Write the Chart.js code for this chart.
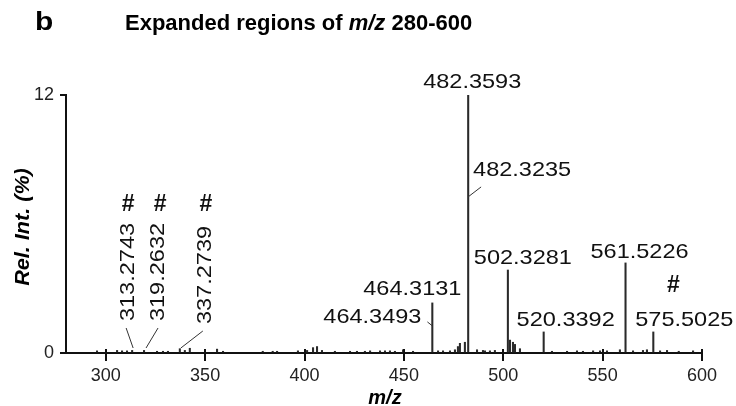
<!DOCTYPE html>
<html>
<head>
<meta charset="utf-8">
<script src="https://cdn.jsdelivr.net/npm/chart.js@4.4.1/dist/chart.umd.min.js"></script>
<style>
  html, body { margin: 0; padding: 0; background: #fff; }
</style>
</head>
<body>
<canvas id="spectrum" width="736" height="406"></canvas>
<script>
// major peaks (m/z, relative intensity %)
const majorMz = [464.3131, 482.3593, 502.3281, 520.3392, 561.5226, 575.5025];
const majorInt = [2.33, 12.0, 3.86, 0.98, 4.19, 0.98];

// small baseline peaks
const minorMz = [295.6, 305.7, 308.2, 310.7, 313.2743, 319.2632, 325.8, 328.8, 331.3, 337.2739,
    339.8, 342.3, 356.0, 359.0, 379.0, 384.0, 386.2, 396.7, 401.3, 404.3, 406.3, 408.8, 415.3,
    422.9, 426.4, 430.4, 433.0, 438.0, 440.5, 443.0, 445.5, 449.6, 454.6, 467.2, 469.7, 473.2,
    475.7, 477.2, 478.2, 480.7, 486.8, 489.8, 490.8, 493.3, 495.8, 503.4, 504.9, 505.9, 508.4,
    524.5, 532.1, 537.1, 540.1, 545.2, 548.7, 552.2, 558.7, 565.3, 570.3, 572.3, 578.9, 582.4,
    588.3, 595.5];
const minorInt = [0.1, 0.12, 0.1, 0.1, 0.12, 0.12, 0.08, 0.08, 0.08, 0.2,
    0.12, 0.22, 0.18, 0.08, 0.08, 0.08, 0.08, 0.1, 0.12, 0.25, 0.3, 0.12, 0.08,
    0.08, 0.08, 0.08, 0.1, 0.1, 0.1, 0.1, 0.08, 0.15, 0.08, 0.1, 0.1, 0.1,
    0.15, 0.3, 0.45, 0.5, 0.15, 0.12, 0.1, 0.1, 0.12, 0.6, 0.5, 0.4, 0.2,
    0.08, 0.08, 0.1, 0.08, 0.1, 0.1, 0.1, 0.15, 0.1, 0.12, 0.15, 0.1, 0.12,
    0.08, 0.1];

const xTicks = [300, 350, 400, 450, 500, 550, 600];
const yTicks = [0, 12];

// annotated peaks: label text, m/z of the stick, intensity where the label hangs
const peakLabels = ['482.3593', '482.3235', '464.3131', '464.3493', '502.3281', '520.3392',
    '561.5226', '575.5025', '313.2743', '319.2632', '337.2739'];
const labelMz = [482.3593, 482.3235, 464.3131, 464.3493, 502.3281, 520.3392,
    561.5226, 575.5025, 313.2743, 319.2632, 337.2739];
const labelInt = [12.0, 7.26, 2.33, 1.26, 3.86, 0.98, 4.19, 0.98, 0, 0, 0];
const hashMarked = ['575.5025', '313.2743', '319.2632', '337.2739'];

// pixel offsets of text / '#' / leader from the anchor point
const labelLayout = {
    '482.3593': { dx: 4, dy: -13 },
    '482.3235': { dx: 54, dy: -27, lead: [[0, 0], [13, -10]] },
    '464.3131': { dx: -20, dy: -14 },
    '464.3493': { dx: -60, dy: -9, lead: [[0, 0], [-5, -4]] },
    '502.3281': { dx: 15, dy: -12 },
    '520.3392': { dx: 22, dy: -12 },
    '561.5226': { dx: 14, dy: -11 },
    '575.5025': { dx: 31, dy: -12, hash: [20, -46] },
    '313.2743': { dx: -4, dy: -81, rot: true, hash: [-4, -148], lead: [[1, -5], [-6, -25]] },
    '319.2632': { dx: 14, dy: -81, rot: true, hash: [16, -148], lead: [[2, -5], [14, -25]] },
    '337.2739': { dx: 25, dy: -78, rot: true, hash: [26, -148], lead: [[1, -5], [23, -22]] }
};

const FONT = '"Liberation Sans", Arial, Helvetica, sans-serif';

const stretchedText = (ctx, txt, x, y, rot, sx = 1.12) => {
    ctx.save();
    ctx.translate(x, y);
    if (rot) ctx.rotate(-Math.PI / 2);
    ctx.scale(sx, 1);
    ctx.fillText(txt, 0, 0);
    ctx.restore();
};

const textPlugin = {
    id: 'texts',
    afterDraw(chart) {
        const { ctx } = chart;
        const xs = chart.scales.x;
        const ys = chart.scales.y;
        ctx.save();

        // short tick stubs above the x axis
        ctx.strokeStyle = '#111';
        ctx.lineWidth = 2;
        xTicks.forEach(v => {
            const px = Math.round(xs.getPixelForValue(v));
            ctx.beginPath();
            ctx.moveTo(px, ys.bottom);
            ctx.lineTo(px, ys.bottom - 4);
            ctx.stroke();
        });

        // peak labels
        ctx.fillStyle = '#111';
        ctx.strokeStyle = '#333';
        ctx.lineWidth = 1;
        ctx.textAlign = 'center';
        ctx.textBaseline = 'middle';
        peakLabels.forEach((txt, i) => {
            const lay = labelLayout[txt];
            const px = xs.getPixelForValue(labelMz[i]);
            const py = ys.getPixelForValue(labelInt[i]);
            ctx.font = '21px ' + FONT;
            stretchedText(ctx, txt, px + lay.dx, py + lay.dy, lay.rot);
            if (lay.lead) {
                ctx.beginPath();
                ctx.moveTo(px + lay.lead[0][0], py + lay.lead[0][1]);
                ctx.lineTo(px + lay.lead[1][0], py + lay.lead[1][1]);
                ctx.stroke();
            }
            if (hashMarked.includes(txt)) {
                ctx.font = 'bold 23px ' + FONT;
                ctx.fillText('#', px + lay.hash[0], py + lay.hash[1]);
            }
        });

        // title
        ctx.fillStyle = '#000';
        ctx.textAlign = 'left';
        ctx.textBaseline = 'alphabetic';
        ctx.font = 'bold 26px ' + FONT;
        stretchedText(ctx, 'b', 35, 30, false, 1.15);
        let tx = 125;
        const parts = [['Expanded regions of ', 'bold'], ['m/z', 'italic bold'], [' 280-600', 'bold']];
        parts.forEach(([s, w]) => {
            ctx.font = w + ' 22px ' + FONT;
            ctx.fillText(s, tx, 30);
            tx += ctx.measureText(s).width;
        });

        // axis titles
        ctx.textAlign = 'center';
        ctx.textBaseline = 'middle';
        ctx.font = 'italic bold 20px ' + FONT;
        stretchedText(ctx, 'Rel. Int. (%)', 23, 227, true, 1.08);
        ctx.font = 'italic bold 20px ' + FONT;
        ctx.fillText('m/z', 385, 398);

        ctx.restore();
    }
};

const points = majorMz.map((m, i) => ({ x: m, y: majorInt[i] }))
    .concat(minorMz.map((m, i) => ({ x: m, y: minorInt[i] })));

const ctx = document.getElementById('spectrum').getContext('2d');
new Chart(ctx, {
    type: 'bar',
    data: {
        datasets: [{
            data: points,
            backgroundColor: '#2a2a2a',
            barThickness: 1.4,
            grouped: false
        }]
    },
    options: {
        responsive: false,
        animation: false,
        layout: {
            padding: { top: 95, right: 34, left: 0, bottom: 0 }
        },
        scales: {
            x: {
                type: 'linear',
                min: 280,
                max: 600,
                offset: false,
                afterBuildTicks: s => { s.ticks = xTicks.map(v => ({ value: v })); },
                afterFit: s => { s.height = 53; },
                grid: {
                    display: true,
                    offset: false,
                    drawOnChartArea: false,
                    drawTicks: true,
                    tickLength: 8,
                    color: '#111',
                    lineWidth: 2
                },
                border: { display: true, color: '#111', width: 2 },
                ticks: {
                    color: '#222',
                    font: { family: FONT, size: 18 },
                    padding: 4,
                    maxRotation: 0,
                    autoSkip: false
                }
            },
            y: {
                min: 0,
                max: 12,
                afterBuildTicks: s => { s.ticks = yTicks.map(v => ({ value: v })); },
                afterFit: s => { s.width = 66; },
                grid: {
                    display: true,
                    drawOnChartArea: false,
                    drawTicks: true,
                    tickLength: 6,
                    color: '#111',
                    lineWidth: 2
                },
                border: { display: true, color: '#111', width: 2 },
                ticks: {
                    color: '#222',
                    font: { family: FONT, size: 18 },
                    padding: 6
                }
            }
        },
        plugins: {
            legend: { display: false },
            tooltip: { enabled: false }
        }
    },
    plugins: [textPlugin]
});
</script>
</body>
</html>
